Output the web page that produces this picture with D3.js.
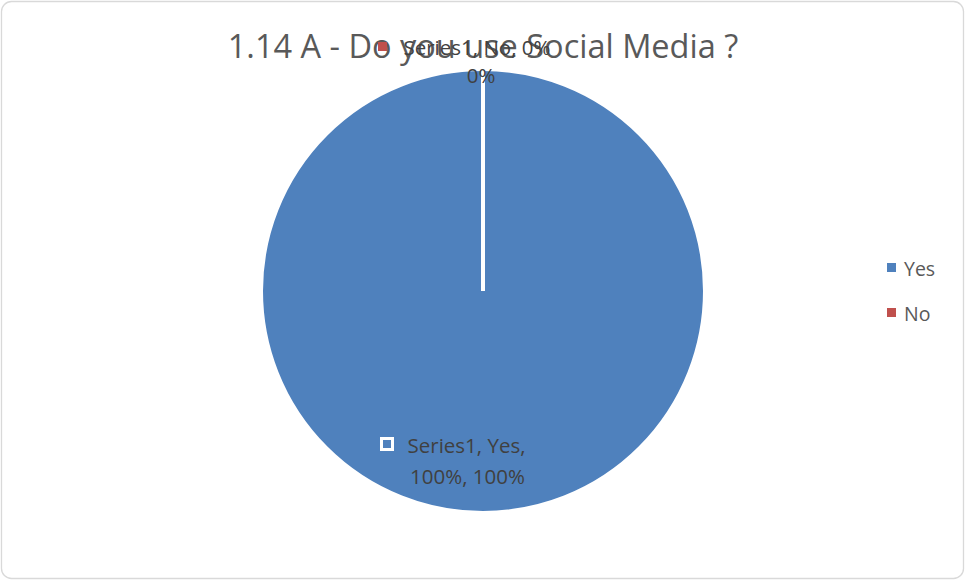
<!DOCTYPE html>
<html>
<head>
<meta charset="utf-8">
<script src="https://cdn.jsdelivr.net/npm/d3@7"></script>
<style>
  html, body { margin: 0; padding: 0; background: #fff; }
  svg { display: block; font-family: "Open Sans", "Noto Sans", sans-serif; }
</style>
</head>
<body>
<svg id="chart" width="966" height="581"></svg>
<script>
// Survey answers and their shares
const categories = ["Yes", "No"];
const values = [100, 0];
const colors = ["#4F81BD", "#C0504D"];
const seriesName = "Series1";
const titleText = "1.14 A - Do you use Social Media ?";

const svg = d3.select("#chart");
const W = 966, H = 581;

// chart frame
svg.append("rect")
  .attr("x", 1.5).attr("y", 1.5)
  .attr("width", W - 4).attr("height", H - 4)
  .attr("rx", 10).attr("ry", 10)
  .attr("fill", "#fff").attr("stroke", "#d9d9d9").attr("stroke-width", 1.3);

const cx = 483, cy = 291, R = 222;
const color = d3.scaleOrdinal().domain(categories).range(colors);
const total = d3.sum(values);
const pct = d3.format(".0%");

const data = categories.map((c, i) => ({ category: c, value: values[i] }));
const pie = d3.pie().value(d => d.value).sort(null);
const arcs = pie(data);
const arc = d3.arc().innerRadius(0).outerRadius(R);

const g = svg.append("g").attr("transform", `translate(${cx},${cy})`);

g.selectAll("path.slice")
  .data(arcs)
  .join("path")
  .attr("class", "slice")
  .attr("d", arc)
  .attr("fill", d => color(d.data.category))
  .attr("stroke", "#fff")
  .attr("stroke-width", 4)
  .attr("stroke-linejoin", "miter");

// title
svg.append("text")
  .attr("x", cx).attr("y", 58)
  .attr("text-anchor", "middle")
  .attr("font-size", 32.5)
  .attr("fill", "#595959")
  .text(titleText);

// data labels
const labelColor = "#404040";
const labelSize = 20.5;

// "No" label, sitting above the slice at the top of the pie
const noIdx = 1;
const noShare = values[noIdx] / total;
const noG = svg.append("g");
noG.append("rect")
  .attr("x", 378).attr("y", 42).attr("width", 9).attr("height", 9)
  .attr("fill", color(categories[noIdx]));
noG.append("text")
  .attr("x", 477).attr("y", 55)
  .attr("text-anchor", "middle")
  .attr("font-size", labelSize).attr("fill", labelColor)
  .text(`${seriesName}, ${categories[noIdx]}, ${pct(noShare)}`);
noG.append("text")
  .attr("x", 481).attr("y", 83)
  .attr("text-anchor", "middle")
  .attr("font-size", labelSize).attr("fill", labelColor)
  .text(pct(noShare));

// "Yes" label inside the slice
const yesIdx = 0;
const yesShare = values[yesIdx] / total;
const yesG = svg.append("g");
yesG.append("rect")
  .attr("x", 381.5).attr("y", 438.5).attr("width", 11).attr("height", 11)
  .attr("fill", color(categories[yesIdx]))
  .attr("stroke", "#fff").attr("stroke-width", 3);
yesG.append("text")
  .attr("x", 466.5).attr("y", 453)
  .attr("text-anchor", "middle")
  .attr("font-size", labelSize).attr("fill", labelColor)
  .text(`${seriesName}, ${categories[yesIdx]},`);
yesG.append("text")
  .attr("x", 467.5).attr("y", 484)
  .attr("text-anchor", "middle")
  .attr("font-size", labelSize).attr("fill", labelColor)
  .text(`${pct(yesShare)}, ${pct(values[yesIdx] / 100)}`);

// legend
const legend = svg.append("g").attr("transform", "translate(887,263)");
const item = legend.selectAll("g")
  .data(categories)
  .join("g")
  .attr("transform", (d, i) => `translate(0,${i * 45})`);
item.append("rect")
  .attr("x", 0).attr("y", 0).attr("width", 9).attr("height", 9)
  .attr("fill", d => color(d));
item.append("text")
  .attr("x", 17).attr("y", 12.5)
  .attr("font-size", 19.5).attr("fill", "#595959")
  .text(d => d);
</script>
</body>
</html>
